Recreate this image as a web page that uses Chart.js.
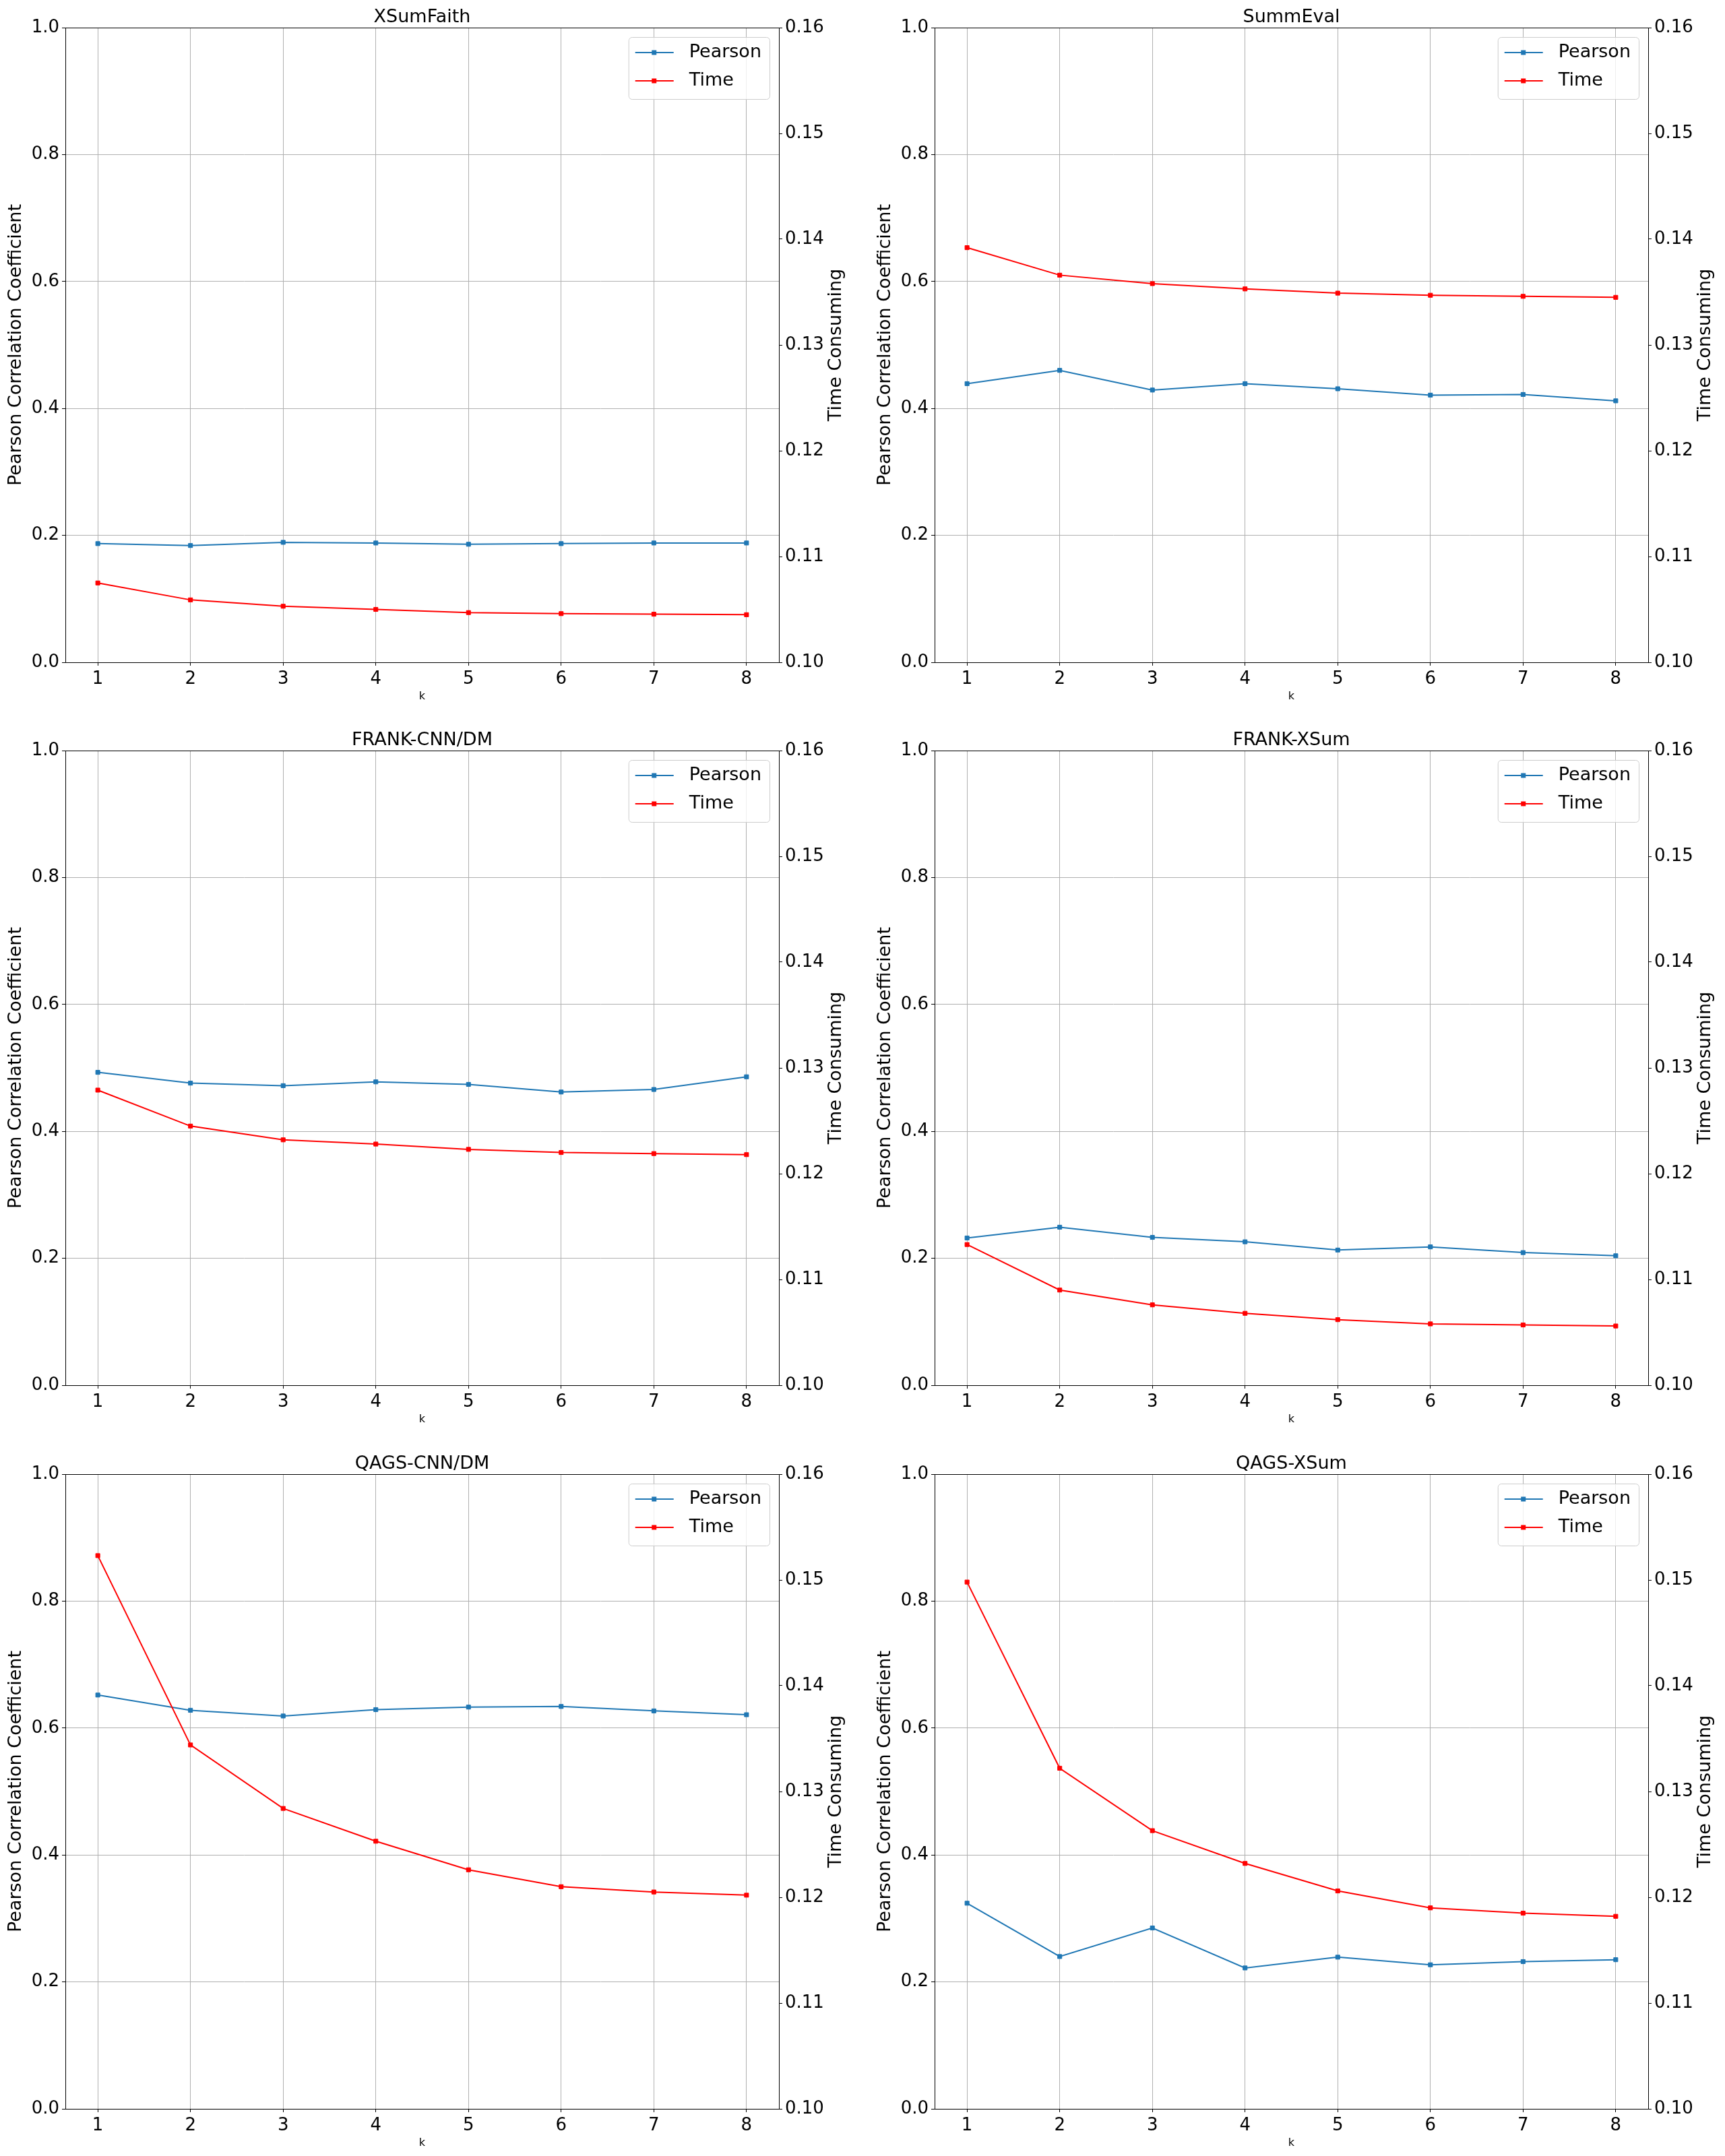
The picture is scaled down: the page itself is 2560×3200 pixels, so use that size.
<!DOCTYPE html>
<html>
<head>
<meta charset="utf-8">
<script src="https://cdn.jsdelivr.net/npm/chart.js@4.4.0/dist/chart.umd.min.js"></script>
<style>
  html, body { margin: 0; padding: 0; background: #fff; }
  #page { position: relative; width: 2560px; height: 3200px; overflow: hidden; background: #fff; }
  #page canvas { position: absolute; }
</style>
</head>
<body>
<div id="page"></div>
<script>
// Données
var k = [1, 2, 3, 4, 5, 6, 7, 8];
var ticksPearson = [0.0, 0.2, 0.4, 0.6, 0.8, 1.0];
var ticksTemps = [0.10, 0.11, 0.12, 0.13, 0.14, 0.15, 0.16];

var titres = ["XSumFaith", "SummEval", "FRANK-CNN/DM", "FRANK-XSum", "QAGS-CNN/DM", "QAGS-XSum"];

var pearsonXSumFaith = [0.187, 0.184, 0.189, 0.188, 0.186, 0.187, 0.188, 0.188];
var tempsXSumFaith   = [0.1075, 0.1059, 0.1053, 0.1050, 0.1047, 0.1046, 0.10455, 0.1045];

var pearsonSummEval = [0.439, 0.460, 0.429, 0.439, 0.431, 0.421, 0.422, 0.412];
var tempsSummEval   = [0.1392, 0.1366, 0.1358, 0.1353, 0.1349, 0.1347, 0.1346, 0.1345];

var pearsonFrankCnn = [0.493, 0.476, 0.472, 0.478, 0.474, 0.462, 0.466, 0.486];
var tempsFrankCnn   = [0.1279, 0.1245, 0.1232, 0.1228, 0.1223, 0.1220, 0.1219, 0.1218];

var pearsonFrankXSum = [0.232, 0.249, 0.233, 0.226, 0.213, 0.218, 0.209, 0.204];
var tempsFrankXSum   = [0.1133, 0.1090, 0.1076, 0.1068, 0.1062, 0.1058, 0.1057, 0.1056];

var pearsonQagsCnn = [0.652, 0.628, 0.619, 0.629, 0.633, 0.634, 0.627, 0.621];
var tempsQagsCnn   = [0.1523, 0.1344, 0.1284, 0.1253, 0.1226, 0.1210, 0.1205, 0.1202];

var pearsonQagsXSum = [0.324, 0.240, 0.285, 0.222, 0.239, 0.227, 0.232, 0.235];
var tempsQagsXSum   = [0.1498, 0.1322, 0.1263, 0.1232, 0.1206, 0.1190, 0.1185, 0.1182];

var series = [
    [pearsonXSumFaith, tempsXSumFaith],
    [pearsonSummEval, tempsSummEval],
    [pearsonFrankCnn, tempsFrankCnn],
    [pearsonFrankXSum, tempsFrankXSum],
    [pearsonQagsCnn, tempsQagsCnn],
    [pearsonQagsXSum, tempsQagsXSum]
];

var bleu = "#1f77b4";
var rouge = "#ff0000";
var police = '"DejaVu Sans", sans-serif';

// position des canvas (colonne, ligne)
var colonnes = [
    {x: 0, gauche: 97, droite: 124},
    {x: 1280, gauche: 107, droite: 114}
];
var lignes = [
    {y: 0, h: 1067},
    {y: 1073, h: 1067},
    {y: 2147, h: 1053}
];
var HAUT = 41, HAUTEUR_ZONE = 942;

// Cadre, titres d'axes et légende
var decor = {
    id: "decor",
    afterDraw: function(chart) {
        var ctx = chart.ctx;
        var ca = chart.chartArea;
        var o = chart.options.plugins.decor;
        ctx.save();

        ctx.strokeStyle = "#000";
        ctx.lineWidth = 1;
        ctx.strokeRect(Math.round(ca.left) + 0.5, Math.round(ca.top) + 0.5,
            Math.round(ca.right - ca.left), Math.round(ca.bottom - ca.top));

        ctx.fillStyle = "#000";
        ctx.textAlign = "center";
        var cx = (ca.left + ca.right) / 2;
        var cy = (ca.top + ca.bottom) / 2;

        ctx.font = "27px " + police;
        ctx.textBaseline = "alphabetic";
        ctx.fillText(o.titre, cx, ca.top - 8);

        ctx.font = "16px " + police;
        ctx.textBaseline = "middle";
        ctx.fillText("k", cx, ca.bottom + 51);

        ctx.font = "27px " + police;
        ctx.save();
        ctx.translate(ca.left - 73, cy);
        ctx.rotate(-Math.PI / 2);
        ctx.fillText("Pearson Correlation Coefficient", 0, 0);
        ctx.restore();
        ctx.save();
        ctx.translate(ca.right + 85, cy);
        ctx.rotate(-Math.PI / 2);
        ctx.fillText("Time Consuming", 0, 0);
        ctx.restore();

        // légende en haut à droite
        var noms = chart.data.datasets.map(d => d.label);
        ctx.font = "27px " + police;
        var maxl = 0;
        noms.forEach(n => { maxl = Math.max(maxl, ctx.measureText(n).width); });
        var larg = 90 + maxl + 12;
        var x0 = ca.right - 14 - larg;
        var y0 = ca.top + 14;
        ctx.beginPath();
        ctx.roundRect(x0 + 0.5, y0 + 0.5, larg, 92, 5);
        ctx.fillStyle = "rgba(255,255,255,0.8)";
        ctx.fill();
        ctx.strokeStyle = "#cccccc";
        ctx.stroke();

        chart.data.datasets.forEach(function(d, i) {
            var yy = y0 + 23 + i * 42;
            ctx.strokeStyle = d.borderColor;
            ctx.lineWidth = 2;
            ctx.beginPath();
            ctx.moveTo(x0 + 10, yy);
            ctx.lineTo(x0 + 67, yy);
            ctx.stroke();
            ctx.fillStyle = d.borderColor;
            ctx.fillRect(x0 + 38 - 3.5, yy - 3.5, 7, 7);
            ctx.fillStyle = "#000";
            ctx.textAlign = "left";
            ctx.textBaseline = "middle";
            ctx.fillText(d.label, x0 + 90, yy);
        });
        ctx.restore();
    }
};

var page = document.getElementById("page");

titres.forEach(function(titre, n) {
    var col = colonnes[n % 2];
    var lig = lignes[Math.floor(n / 2)];
    var canvas = document.createElement("canvas");
    canvas.width = 1280;
    canvas.height = lig.h;
    canvas.style.left = col.x + "px";
    canvas.style.top = lig.y + "px";
    canvas.style.width = "1280px";
    canvas.style.height = lig.h + "px";
    page.appendChild(canvas);

    var pearson = series[n][0];
    var temps = series[n][1];

    var policeTicks = {family: police, size: 26};

    new Chart(canvas.getContext("2d"), {
        type: "line",
        data: {
            datasets: [
                {
                    label: "Pearson",
                    data: k.map((v, i) => ({x: v, y: pearson[i]})),
                    yAxisID: "y",
                    borderColor: bleu,
                    backgroundColor: bleu,
                    borderWidth: 2,
                    pointStyle: "rect",
                    pointRadius: 4.3,
                    pointBorderWidth: 1,
                    tension: 0,
                    order: 1
                },
                {
                    label: "Time",
                    data: k.map((v, i) => ({x: v, y: temps[i]})),
                    yAxisID: "y1",
                    borderColor: rouge,
                    backgroundColor: rouge,
                    borderWidth: 2,
                    pointStyle: "rect",
                    pointRadius: 4.3,
                    pointBorderWidth: 1,
                    tension: 0,
                    order: 0
                }
            ]
        },
        options: {
            responsive: false,
            animation: false,
            devicePixelRatio: 1,
            layout: {padding: {top: HAUT, left: 0, right: 0, bottom: 0}},
            plugins: {
                legend: {display: false},
                tooltip: {enabled: false},
                title: {display: false},
                decor: {titre: titre}
            },
            scales: {
                x: {
                    type: "linear",
                    position: "bottom",
                    min: 0.65,
                    max: 8.35,
                    afterBuildTicks: function(axis) { axis.ticks = k.map(v => ({value: v})); },
                    afterFit: function(axis) { axis.height = lig.h - HAUT - HAUTEUR_ZONE; },
                    ticks: {font: policeTicks, color: "#000", padding: 5, maxRotation: 0, autoSkip: false,
                        callback: v => String(v)},
                    grid: {color: "#b0b0b0", lineWidth: 1, tickColor: "#000", tickLength: 5},
                    border: {color: "#000", width: 1}
                },
                y: {
                    type: "linear",
                    position: "left",
                    min: 0,
                    max: 1,
                    afterBuildTicks: function(axis) { axis.ticks = ticksPearson.map(v => ({value: v})); },
                    afterFit: function(axis) { axis.width = col.gauche; },
                    ticks: {font: policeTicks, color: "#000", padding: 4, callback: v => v.toFixed(1)},
                    grid: {color: "#b0b0b0", lineWidth: 1, tickColor: "#000", tickLength: 5},
                    border: {color: "#000", width: 1}
                },
                y1: {
                    type: "linear",
                    position: "right",
                    min: 0.10,
                    max: 0.16,
                    afterBuildTicks: function(axis) { axis.ticks = ticksTemps.map(v => ({value: v})); },
                    afterFit: function(axis) { axis.width = col.droite; },
                    ticks: {font: policeTicks, color: "#000", padding: 4, callback: v => v.toFixed(2)},
                    grid: {drawOnChartArea: false, tickColor: "#000", tickLength: 5},
                    border: {color: "#000", width: 1}
                }
            }
        },
        plugins: [decor]
    });
});
</script>
</body>
</html>
